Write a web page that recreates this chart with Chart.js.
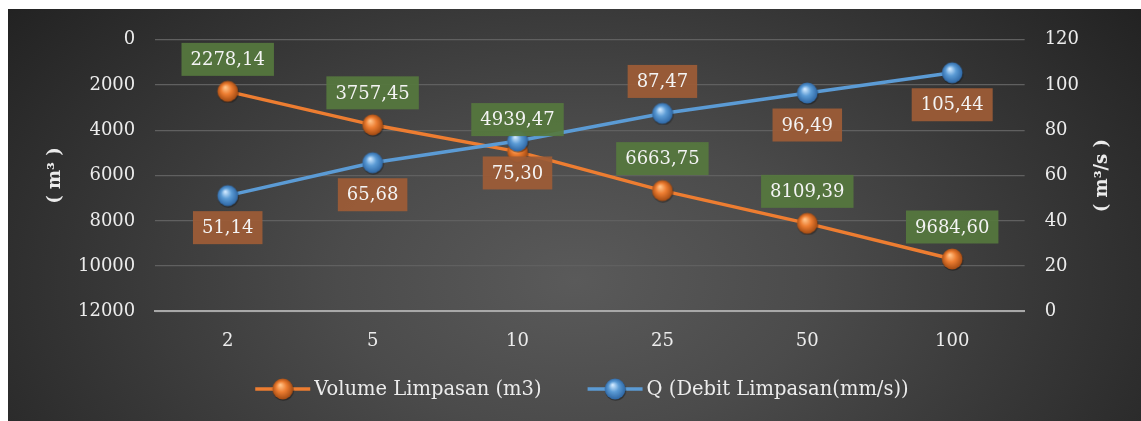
<!DOCTYPE html>
<html>
<head>
<meta charset="utf-8">
<script src="https://cdn.jsdelivr.net/npm/chart.js@4.4.1/dist/chart.umd.min.js"></script>
<style>
  html, body { margin: 0; padding: 0; background: #fff; }
  #wrap {
    position: absolute; left: 8px; top: 9px; width: 1133px; height: 412px;
    background: radial-gradient(ellipse 70% 120% at 50% 66%, #5a5a5a 0%, #4b4b4b 30%, #353535 62%, #1f1f1f 95%);
  }
</style>
</head>
<body>
<div id="wrap"><canvas id="chart" width="1133" height="412"></canvas></div>
<script>
// Return periods (years)
const periods = ['2', '5', '10', '25', '50', '100'];
// Volume Limpasan (m3) - left axis, reversed
const volume = [2278.14, 3757.45, 4939.47, 6663.75, 8109.39, 9684.60];
// Q (Debit Limpasan) - right axis
const debit = [51.14, 65.68, 75.30, 87.47, 96.49, 105.44];

const FONT = '"DejaVu Serif", "Liberation Serif", serif';
const TEXT = '#ececec';

// glossy ball used as the point marker
function sphere(base, light, dark) {
  const c = document.createElement('canvas');
  c.width = 24; c.height = 24;
  const g = c.getContext('2d');
  g.beginPath(); g.arc(12.6, 13.2, 10.6, 0, Math.PI * 2);
  g.fillStyle = 'rgba(0,0,0,0.35)'; g.fill();
  const gr = g.createRadialGradient(9.5, 8, 0.5, 12, 12, 11);
  gr.addColorStop(0, light);
  gr.addColorStop(0.45, base);
  gr.addColorStop(1, dark);
  g.beginPath(); g.arc(12, 12, 10.4, 0, Math.PI * 2);
  g.fillStyle = gr; g.fill();
  return c;
}

const orangeBall = sphere('#ed7d31', '#ffc48a', '#9c4610');
const blueBall = sphere('#5b9bd5', '#cfe8ff', '#2a62a0');

// draws the value boxes next to each point
const valueLabels = {
  id: 'valueLabels',
  afterDatasetsDraw(chart) {
    const ctx = chart.ctx;
    ctx.save();
    ctx.font = '18px ' + FONT;
    ctx.textAlign = 'center';
    ctx.textBaseline = 'middle';
    chart.data.datasets.forEach((ds, di) => {
      const meta = chart.getDatasetMeta(di);
      meta.data.forEach((pt, i) => {
        const txt = ds.data[i].toFixed(2).replace('.', ',');
        const above = ds.labelSide[i] === 'above';
        const w = ctx.measureText(txt).width + 18;
        const h = 33;
        const cy = pt.y + (above ? -32 : 32);
        ctx.globalAlpha = 0.92;
        ctx.fillStyle = ds.labelBg;
        ctx.fillRect(pt.x - w / 2, cy - h / 2, w, h);
        ctx.globalAlpha = 1;
        ctx.fillStyle = '#f4f4f4';
        ctx.fillText(txt, pt.x, cy + 1);
      });
    });
    ctx.restore();
  }
};

// axis titles (both read bottom to top) and the legend row
const extras = {
  id: 'extras',
  afterDraw(chart) {
    const ctx = chart.ctx;
    const a = chart.chartArea;
    const cy = (a.top + a.bottom) / 2;
    ctx.save();
    ctx.font = 'bold 18px ' + FONT;
    ctx.fillStyle = TEXT;
    ctx.textAlign = 'center';
    ctx.textBaseline = 'middle';
    [[chart.scales.y.left - 3, '( m\u00b3 )'], [chart.scales.y1.right + 3, '( m\u00b3/s )']].forEach(([x, t]) => {
      ctx.save();
      ctx.translate(x, cy);
      ctx.rotate(-Math.PI / 2);
      ctx.fillText(t, 0, 0);
      ctx.restore();
    });

    // legend
    ctx.font = '19.5px ' + FONT;
    ctx.textAlign = 'left';
    const items = chart.data.datasets.map(ds => ({ ds, w: ctx.measureText(ds.label).width }));
    const iconW = 55, gapIcon = 4, gapItem = 46;
    let total = items.reduce((s, it) => s + iconW + gapIcon + it.w, 0) + gapItem * (items.length - 1);
    let x = (a.left + a.right) / 2 - 8 - total / 2;
    const ly = chart.height - 32;
    items.forEach(it => {
      ctx.strokeStyle = it.ds.borderColor;
      ctx.lineWidth = 3.5;
      ctx.beginPath(); ctx.moveTo(x, ly); ctx.lineTo(x + iconW, ly); ctx.stroke();
      ctx.drawImage(it.ds.pointStyle, x + iconW / 2 - 12, ly - 12);
      ctx.fillStyle = TEXT;
      ctx.fillText(it.ds.label, x + iconW + gapIcon, ly + 1);
      x += iconW + gapIcon + it.w + gapItem;
    });
    ctx.restore();
  }
};

const tickFont = { family: FONT, size: 18 };
const plain = v => String(v);

new Chart(document.getElementById('chart'), {
  type: 'line',
  data: {
    labels: periods,
    datasets: [
      {
        label: 'Volume Limpasan (m3)',
        data: volume,
        yAxisID: 'y',
        borderColor: '#ed7d31',
        borderWidth: 3.5,
        pointStyle: orangeBall,
        labelBg: 'rgb(86,120,62)',
        labelSide: ['above', 'above', 'above', 'above', 'above', 'above'],
        order: 1
      },
      {
        label: 'Q (Debit Limpasan(mm/s))',
        data: debit,
        yAxisID: 'y1',
        borderColor: '#5b9bd5',
        borderWidth: 3.5,
        pointStyle: blueBall,
        labelBg: 'rgb(158,92,54)',
        labelSide: ['below', 'below', 'below', 'above', 'below', 'below'],
        order: 0
      }
    ]
  },
  options: {
    responsive: false,
    animation: false,
    layout: { padding: { left: 50, right: 42, top: 30, bottom: 58 } },
    plugins: {
      tooltip: { enabled: false },
      legend: { display: false }
    },
    scales: {
      x: {
        offset: true,
        grid: { display: false },
        border: { color: '#a8a8a8', width: 2 },
        ticks: { color: TEXT, font: tickFont, padding: 11 }
      },
      y: {
        position: 'left',
        reverse: true,
        min: 0,
        max: 12000,
        ticks: { stepSize: 2000, color: TEXT, font: tickFont, padding: 20, callback: plain },
        grid: { color: '#606060', lineWidth: 1.3, drawTicks: false },
        border: { display: false }
      },
      y1: {
        position: 'right',
        min: 0,
        max: 120,
        ticks: { stepSize: 20, color: TEXT, font: tickFont, padding: 20, callback: plain },
        grid: { display: false, drawTicks: false },
        border: { display: false }
      }
    }
  },
  plugins: [valueLabels, extras]
});
</script>
</body>
</html>
